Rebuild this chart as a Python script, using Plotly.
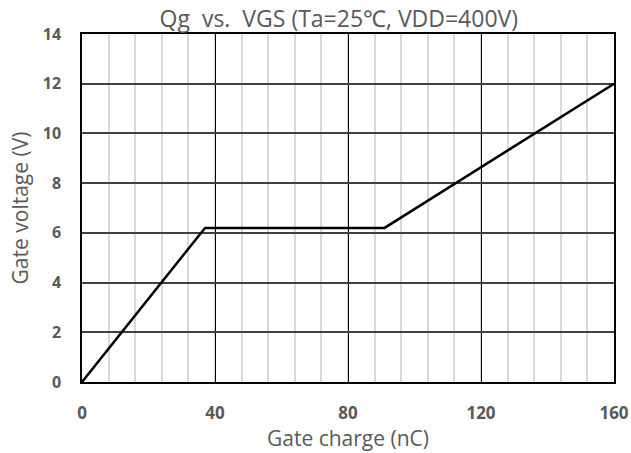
import plotly.graph_objects as go

gate_charge = [0, 37, 91, 160]
gate_voltage = [0, 6.2, 6.2, 12]

x_ticks = [0, 40, 80, 120, 160]
y_ticks = [0, 2, 4, 6, 8, 10, 12, 14]

fig = go.Figure()
fig.add_trace(go.Scatter(x=gate_charge, y=gate_voltage, mode="lines",
                         line=dict(color="black", width=2.5), showlegend=False))

font_fam = "Open Sans, Noto Sans, sans-serif"
fig.update_layout(
    width=631, height=453,
    margin=dict(l=82, r=17, t=34, b=71),
    paper_bgcolor="white", plot_bgcolor="white",
    title=dict(text="Qg  vs.  VGS (Ta=25℃, VDD=400V)",
               x=0.537, xref="container", xanchor="center",
               y=1 - 19 / 453, yref="container", yanchor="middle",
               font=dict(family=font_fam, size=23, color="#595959")),
    font=dict(family=font_fam, color="#595959"),
)

fig.update_xaxes(
    range=[0, 160], tickvals=x_ticks, ticktext=[f"<b>{v}</b>" for v in x_ticks],
    tickfont=dict(size=17, color="#595959"),
    showgrid=True, gridcolor="black", gridwidth=1.2,
    minor=dict(dtick=8, tick0=0, showgrid=True, gridcolor="#d9d9d9", gridwidth=1.5),
    showline=True, linecolor="black", linewidth=1.5, mirror=True,
    zeroline=False, ticks="", ticklabelstandoff=15, automargin=False,
    title=dict(text="Gate charge (nC)", font=dict(size=21, color="#595959"), standoff=4),
)
fig.update_yaxes(
    range=[0, 14], tickvals=y_ticks, ticktext=[f"<b>{v}</b>" for v in y_ticks],
    tickfont=dict(size=16, color="#595959"),
    showgrid=True, gridcolor="#404040", gridwidth=1.5,
    showline=True, linecolor="black", linewidth=1.5, mirror=True,
    zeroline=False, ticks="", ticklabelstandoff=16, automargin=False,
    title=dict(text="Gate voltage (V)", font=dict(size=21, color="#595959"), standoff=8),
)

fig.write_html("out.html")
